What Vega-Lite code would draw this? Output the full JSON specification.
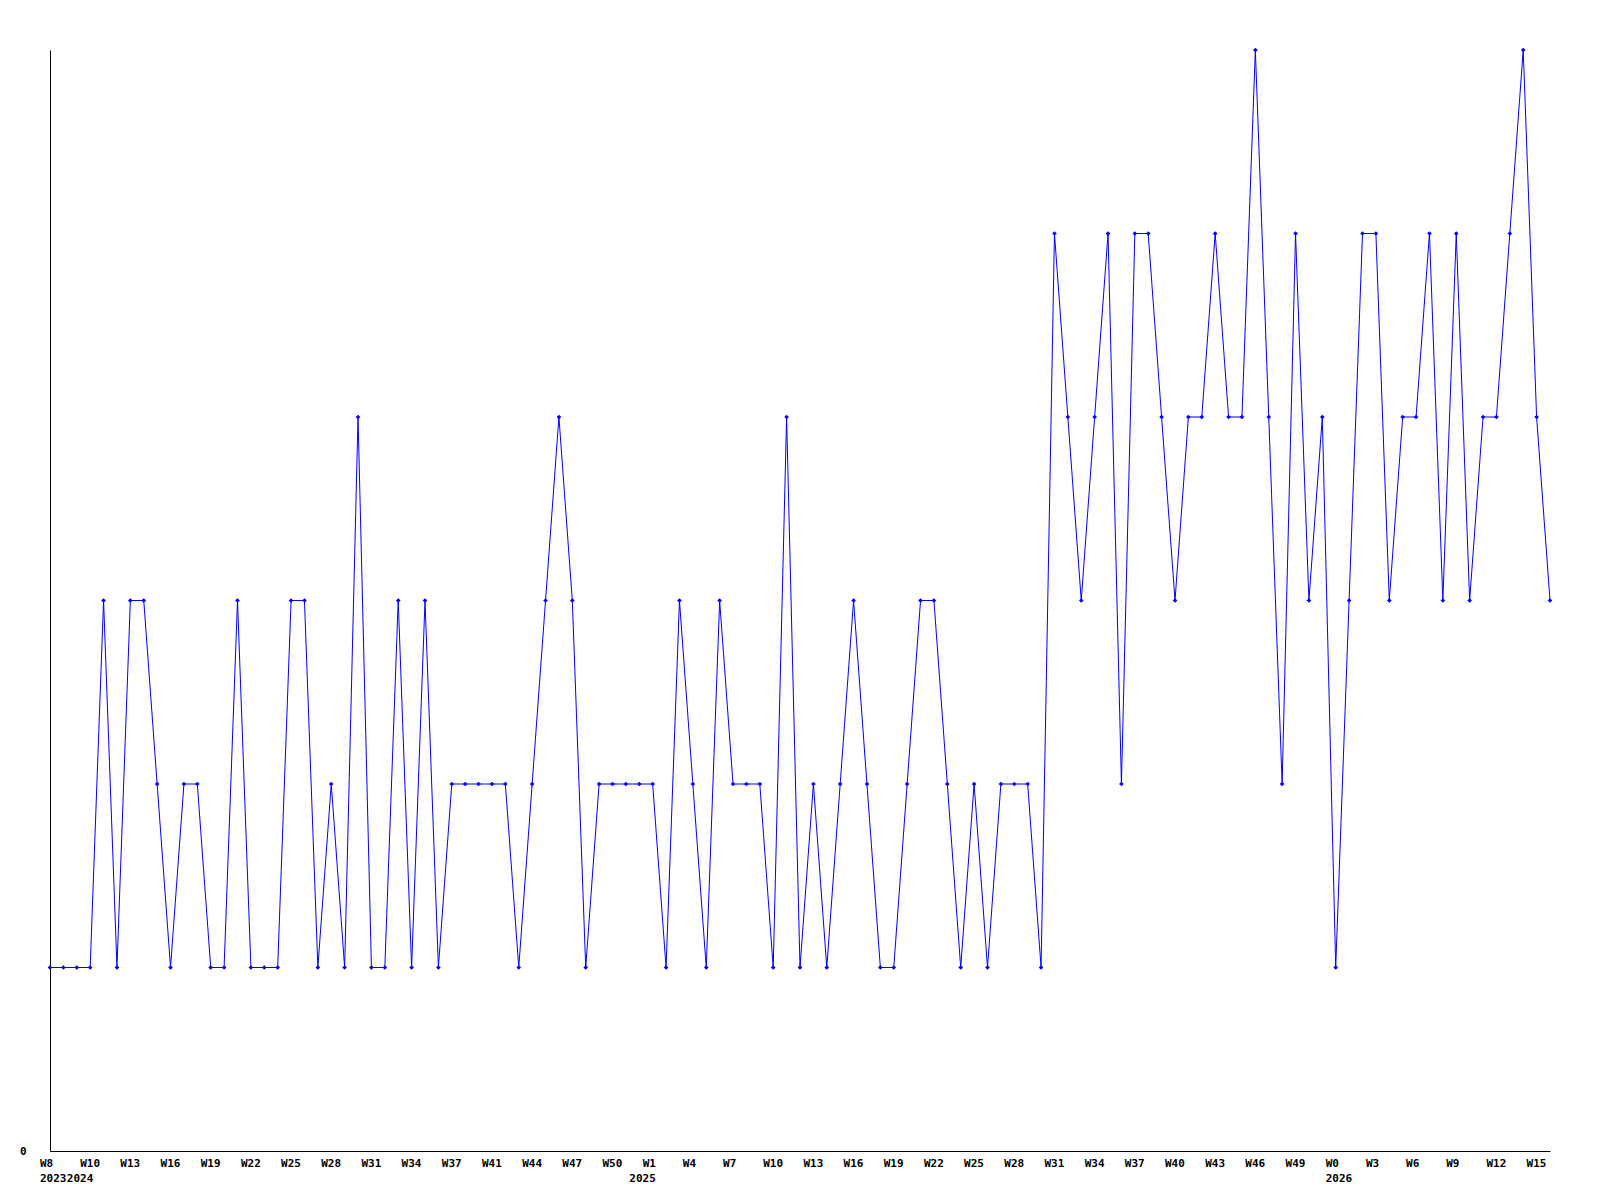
{
  "$schema": "https://vega.github.io/schema/vega-lite/v6.json",
  "width": 1500,
  "height": 1101,
  "autosize": {"type": "none"},
  "padding": {"left": 50, "top": 50, "right": 50, "bottom": 49},
  "background": "white",
  "config": {"view": {"stroke": null}},
  "data": {"values": [
    {"i":0,"v":1},{"i":1,"v":1},{"i":2,"v":1},{"i":3,"v":1},{"i":4,"v":3},{"i":5,"v":1},{"i":6,"v":3},{"i":7,"v":3},{"i":8,"v":2},{"i":9,"v":1},{"i":10,"v":2},{"i":11,"v":2},{"i":12,"v":1},{"i":13,"v":1},{"i":14,"v":3},{"i":15,"v":1},
    {"i":16,"v":1},{"i":17,"v":1},{"i":18,"v":3},{"i":19,"v":3},{"i":20,"v":1},{"i":21,"v":2},{"i":22,"v":1},{"i":23,"v":4},{"i":24,"v":1},{"i":25,"v":1},{"i":26,"v":3},{"i":27,"v":1},{"i":28,"v":3},{"i":29,"v":1},{"i":30,"v":2},{"i":31,"v":2},
    {"i":32,"v":2},{"i":33,"v":2},{"i":34,"v":2},{"i":35,"v":1},{"i":36,"v":2},{"i":37,"v":3},{"i":38,"v":4},{"i":39,"v":3},{"i":40,"v":1},{"i":41,"v":2},{"i":42,"v":2},{"i":43,"v":2},{"i":44,"v":2},{"i":45,"v":2},{"i":46,"v":1},{"i":47,"v":3},
    {"i":48,"v":2},{"i":49,"v":1},{"i":50,"v":3},{"i":51,"v":2},{"i":52,"v":2},{"i":53,"v":2},{"i":54,"v":1},{"i":55,"v":4},{"i":56,"v":1},{"i":57,"v":2},{"i":58,"v":1},{"i":59,"v":2},{"i":60,"v":3},{"i":61,"v":2},{"i":62,"v":1},{"i":63,"v":1},
    {"i":64,"v":2},{"i":65,"v":3},{"i":66,"v":3},{"i":67,"v":2},{"i":68,"v":1},{"i":69,"v":2},{"i":70,"v":1},{"i":71,"v":2},{"i":72,"v":2},{"i":73,"v":2},{"i":74,"v":1},{"i":75,"v":5},{"i":76,"v":4},{"i":77,"v":3},{"i":78,"v":4},{"i":79,"v":5},
    {"i":80,"v":2},{"i":81,"v":5},{"i":82,"v":5},{"i":83,"v":4},{"i":84,"v":3},{"i":85,"v":4},{"i":86,"v":4},{"i":87,"v":5},{"i":88,"v":4},{"i":89,"v":4},{"i":90,"v":6},{"i":91,"v":4},{"i":92,"v":2},{"i":93,"v":5},{"i":94,"v":3},{"i":95,"v":4},
    {"i":96,"v":1},{"i":97,"v":3},{"i":98,"v":5},{"i":99,"v":5},{"i":100,"v":3},{"i":101,"v":4},{"i":102,"v":4},{"i":103,"v":5},{"i":104,"v":3},{"i":105,"v":5},{"i":106,"v":3},{"i":107,"v":4},{"i":108,"v":4},{"i":109,"v":5},{"i":110,"v":6},{"i":111,"v":4},{"i":112,"v":3}
  ]},
  "encoding": {
    "x": {
      "field": "i", "type": "quantitative",
      "scale": {"domain": [0, 112], "nice": false, "zero": false},
      "axis": {
        "title": null, "grid": false, "ticks": false,
        "domainColor": "black", "domainWidth": 1,
        "values": [0,2,3,6,9,12,15,18,21,24,27,30,33,36,39,42,44,45,48,51,54,57,60,63,66,69,72,75,78,81,84,87,90,93,96,99,102,105,108,111],
        "labelExpr": "datum.value == 0 ? ['W8','2023'] : datum.value == 2 ? ['','2024'] : datum.value == 44 ? ['','2025'] : datum.value == 96 ? ['W0','2026'] : ['W8','W10','W13','W16','W19','W22','W25','W28','W31','W34','W37','W41','W44','W47','W50','W1','W4','W7','W10','W13','W16','W19','W22','W25','W28','W31','W34','W37','W40','W43','W46','W49','W0','W3','W6','W9','W12','W15'][datum.value / 3]",
        "labelAlign": "left", "labelBaseline": "top", "labelOffset": -10.5, "labelPadding": 6,
        "labelLineHeight": 15,
        "labelFont": "DejaVu Sans Mono", "labelFontWeight": "bold", "labelFontSize": 11, "labelColor": "black",
        "labelOverlap": false, "labelFlush": false, "labelBound": false
      }
    },
    "y": {
      "field": "v", "type": "quantitative",
      "scale": {"domain": [0, 6], "nice": false, "zero": true},
      "axis": {
        "title": null, "grid": false, "ticks": false, "values": [0],
        "domainColor": "black", "domainWidth": 1,
        "labelPadding": 24, "labelFont": "DejaVu Sans Mono", "labelFontWeight": "bold", "labelFontSize": 11, "labelColor": "black"
      }
    }
  },
  "layer": [
    {"mark": {"type": "line", "color": "#0000ff", "strokeWidth": 1}},
    {"mark": {"type": "point", "shape": "diamond", "filled": true, "color": "#0000ff", "size": 22, "opacity": 1}}
  ]
}
